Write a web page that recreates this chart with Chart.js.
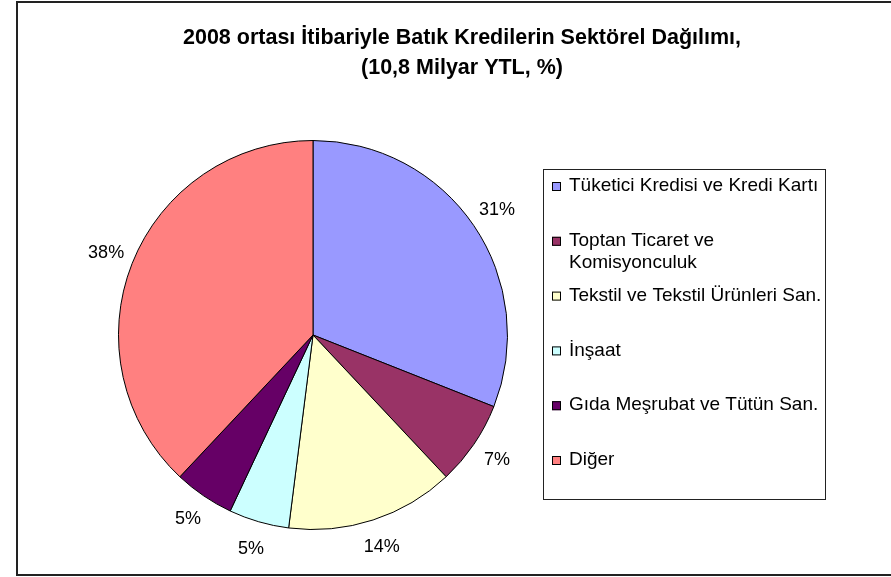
<!DOCTYPE html>
<html>
<head>
<meta charset="utf-8">
<script src="https://cdn.jsdelivr.net/npm/chart.js@4.4.0/dist/chart.umd.min.js"></script>
<style>
html,body{margin:0;padding:0;background:#fff;}
#wrap{position:relative;width:891px;height:577px;}
</style>
</head>
<body>
<div id="wrap"><canvas id="c" width="891" height="577"></canvas></div>
<script>
const titleLines = ['2008 ortası İtibariyle Batık Kredilerin Sektörel Dağılımı,', '(10,8 Milyar YTL, %)'];
const categories = [
  'Tüketici Kredisi ve Kredi Kartı',
  ['Toptan Ticaret ve', 'Komisyonculuk'],
  'Tekstil ve Tekstil Ürünleri San.',
  'İnşaat',
  'Gıda Meşrubat ve Tütün San.',
  'Diğer'
];
const shares = [31, 7, 14, 5, 5, 38];
const colors = ['#9999FF', '#993366', '#FFFFCC', '#CCFFFF', '#660066', '#FF8080'];

const FONT = '"Liberation Sans", Arial, sans-serif';

const decor = {
  id: 'decor',
  beforeDraw(chart) {
    const ctx = chart.ctx;
    ctx.save();
    ctx.fillStyle = '#fff';
    ctx.fillRect(0, 0, chart.width, chart.height);
    // outer frame
    ctx.strokeStyle = '#222';
    ctx.lineWidth = 2;
    ctx.strokeRect(17, 2, 900, 573);
    // title
    ctx.fillStyle = '#000';
    ctx.font = 'bold 21.5px ' + FONT;
    ctx.textAlign = 'center';
    ctx.textBaseline = 'middle';
    ctx.fillText(titleLines[0], 462, 38);
    ctx.fillText(titleLines[1], 462, 68);
    ctx.restore();
  },
  afterDraw(chart) {
    const ctx = chart.ctx;
    const meta = chart.getDatasetMeta(0);
    const data = chart.data.datasets[0].data;
    ctx.save();
    // percentage labels
    ctx.fillStyle = '#000';
    ctx.font = '18px ' + FONT;
    ctx.textAlign = 'center';
    ctx.textBaseline = 'middle';
    meta.data.forEach((arc, i) => {
      const p = arc.getProps(['x', 'y', 'startAngle', 'endAngle', 'outerRadius'], true);
      const mid = (p.startAngle + p.endAngle) / 2;
      const r = p.outerRadius + 28;
      ctx.fillText(data[i] + '%', p.x + Math.cos(mid) * r, p.y + Math.sin(mid) * r);
    });
    // legend box
    const bx = 543, by = 169, bw = 282, bh = 330;
    ctx.strokeStyle = '#222';
    ctx.lineWidth = 1;
    ctx.strokeRect(bx + 0.5, by + 0.5, bw, bh);
    ctx.font = '19px ' + FONT;
    ctx.textAlign = 'left';
    const labels = chart.data.labels;
    const bg = chart.data.datasets[0].backgroundColor;
    labels.forEach((lab, i) => {
      const y = 186 + i * 54.8;
      ctx.fillStyle = bg[i];
      ctx.fillRect(552, y - 4, 9, 9);
      ctx.strokeStyle = '#000';
      ctx.strokeRect(552.5, y - 3.5, 8, 8);
      ctx.fillStyle = '#000';
      const lines = Array.isArray(lab) ? lab : [lab];
      lines.forEach((ln, j) => ctx.fillText(ln, 569, y + j * 22));
    });
    ctx.restore();
  }
};

new Chart(document.getElementById('c'), {
  type: 'pie',
  data: {
    labels: categories,
    datasets: [{
      data: shares,
      backgroundColor: colors,
      borderColor: '#000',
      borderWidth: 1
    }]
  },
  options: {
    responsive: false,
    animation: false,
    layout: { padding: { left: 118, right: 383, top: 140, bottom: 47 } },
    plugins: {
      legend: { display: false },
      title: { display: false },
      tooltip: { enabled: false }
    }
  },
  plugins: [decor]
});
</script>
</body>
</html>
